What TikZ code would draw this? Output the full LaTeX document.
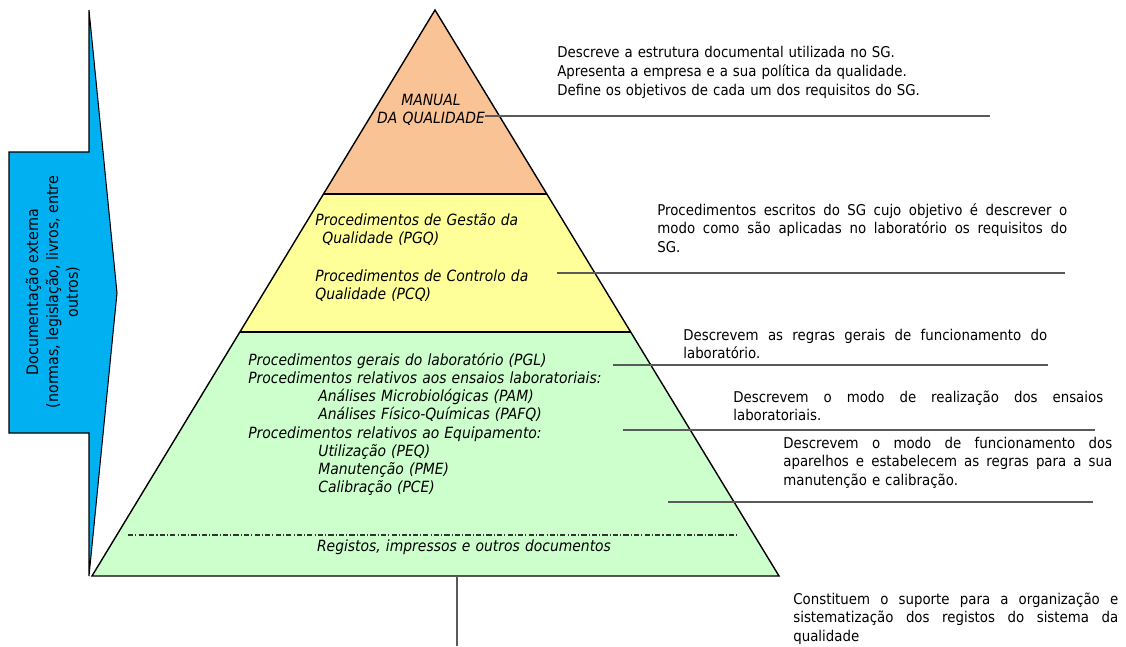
\documentclass[tikz,border=0pt]{standalone}
\usepackage{fontspec}
\setmainfont{DejaVu Sans Condensed}
\usepackage{tikz}
\usetikzlibrary{calc}
\definecolor{Azul}{RGB}{0,176,240}
\definecolor{Laranja}{RGB}{250,195,150}
\definecolor{Amarelo}{RGB}{255,255,153}
\definecolor{VerdeClaro}{RGB}{204,255,204}
\definecolor{Linha}{RGB}{90,90,90}
% linha justificada com largura fixa
\newcommand{\jl}[2]{\leavevmode{\spaceskip=\fontdimen2\font plus 1fil\relax\hbox to #1{#2}}}

\begin{document}
\begin{tikzpicture}[x=0.02cm, y=-0.02cm,
        contorno/.style={draw=black, line width=0.8pt, line join=miter},
        guia/.style={draw=Linha, line width=0.9pt},
        texto/.style={anchor=base west, inner sep=0pt, align=left, font=\fontsize{8.45}{10.8}\selectfont},
        camada/.style={texto, text width=8cm, font=\fontsize{8.8}{10.4}\selectfont\itshape}
    ]
        \useasboundingbox (0,0) rectangle (1126,646);

        % Seta azul da documentação externa
        \filldraw[fill=Azul, draw=black, line width=0.6pt] (9,152) -- (89,152) -- (89,10) -- (117,293) -- (89,576) -- (89,433) -- (9,433) -- cycle;
        \node[rotate=90, align=center, inner sep=0pt, font=\fontsize{9}{11.3}\selectfont] (externa) at (53,292) {Documentação externa\\(normas, legislação, livros, entre\\outros)};

        % Pirâmide em três camadas
        \coordinate (topo) at (435,10);
        \coordinate (baseE) at (92,576);
        \coordinate (baseD) at (779,576);
        \coordinate (c1E) at ($(topo)!0.3251!(baseE)$);
        \coordinate (c1D) at ($(topo)!0.3251!(baseD)$);
        \coordinate (c2E) at ($(topo)!0.5689!(baseE)$);
        \coordinate (c2D) at ($(topo)!0.5689!(baseD)$);
        \fill[Laranja] (topo) -- (c1E) -- (c1D) -- cycle;
        \fill[Amarelo] (c1E) -- (c2E) -- (c2D) -- (c1D) -- cycle;
        \fill[VerdeClaro] (c2E) -- (baseE) -- (baseD) -- (c2D) -- cycle;
        \draw[contorno] (topo) -- (baseE) -- (baseD) -- cycle;
        \draw[contorno] (c1E) -- (c1D);
        \draw[contorno] (c2E) -- (c2D);

        % Linha traço-ponto dos registos
        \coordinate (regE) at (128,535);
        \coordinate (regD) at (738,535);
        \draw[black!80, line width=0.6pt, dash pattern=on 3pt off 1.2pt on 0.6pt off 1.2pt] (regE) -- (regD);

        % Textos dentro da pirâmide
        \node[camada, text width=2.5cm, anchor=base, align=center] (manual) at (431,105) {MANUAL\\DA QUALIDADE};
        \node[camada] (pgq) at (315,225) {Procedimentos de Gestão da\\\hspace*{4pt}Qualidade (PGQ)};
        \node[camada] (pcq) at (315,281) {Procedimentos de Controlo da\\Qualidade (PCQ)};
        \node[camada] (pgl) at (248,365) {Procedimentos gerais do laboratório (PGL)\\
            Procedimentos relativos aos ensaios laboratoriais:\\
            \hspace*{1.4cm}Análises Microbiológicas (PAM)\\
            \hspace*{1.4cm}Análises Físico-Químicas (PAFQ)\\
            Procedimentos relativos ao Equipamento:\\
            \hspace*{1.4cm}Utilização (PEQ)\\
            \hspace*{1.4cm}Manutenção (PME)\\
            \hspace*{1.4cm}Calibração (PCE)};
        \node[camada, text width=7cm, anchor=base, align=center] (registos) at (464,551) {Registos, impressos e outros documentos};

        % Descrições à direita
        \node[texto, text width=8cm, font=\fontsize{8.45}{11}\selectfont] (descManual) at (557,57) {Descreve a estrutura documental utilizada no SG.\\Apresenta a empresa e a sua política da qualidade.\\Define os objetivos de cada um dos requisitos do SG.};
        \node[texto, text width=8.2cm] (descProc) at (657,215) {\jl{8.2cm}{Procedimentos escritos do SG cujo objetivo é descrever o}\\\jl{8.2cm}{modo como são aplicadas no laboratório os requisitos do}\\SG.};
        \node[texto, text width=7.28cm] (descPGL) at (683,340) {\jl{7.28cm}{Descrevem as regras gerais de funcionamento do}\\laboratório.};
        \node[texto, text width=7.4cm] (descEnsaios) at (733,402) {\jl{7.4cm}{Descrevem o modo de realização dos ensaios}\\laboratoriais.};
        \node[texto, text width=6.58cm] (descEquip) at (783,448) {\jl{6.58cm}{Descrevem o modo de funcionamento dos}\\\jl{6.58cm}{aparelhos e estabelecem as regras para a sua}\\manutenção e calibração.};
        \node[texto, text width=6.5cm] (descRegistos) at (793,604) {\jl{6.5cm}{Constituem o suporte para a organização e}\\\jl{6.5cm}{sistematização dos registos do sistema da}\\qualidade};

        % Linhas de ligação
        \coordinate (g1a) at (485,116);  \coordinate (g1b) at (990,116);
        \coordinate (g2a) at (557,273);  \coordinate (g2b) at (1065,273);
        \coordinate (g3a) at (613,365);  \coordinate (g3b) at (1048,365);
        \coordinate (g4a) at (623,430);  \coordinate (g4b) at (1095,430);
        \coordinate (g5a) at (668,502);  \coordinate (g5b) at (1093,502);
        \coordinate (g6a) at (457,576);  \coordinate (g6b) at (457,646);
        \draw[guia] (g1a) -- (g1b);
        \draw[guia] (g2a) -- (g2b);
        \draw[guia] (g3a) -- (g3b);
        \draw[guia] (g4a) -- (g4b);
        \draw[guia] (g5a) -- (g5b);
        \draw[guia] (g6a) -- (g6b);
    \end{tikzpicture}
\end{document}
